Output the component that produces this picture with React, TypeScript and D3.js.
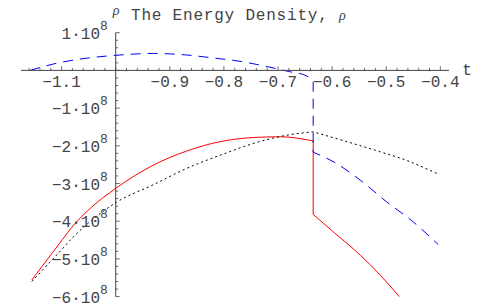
import React from "react";
import * as d3 from "d3";

// Values in units of 1e8
const blueLeftT = [-1.158, -1.115, -1.066, -1.0, -0.93, -0.87, -0.82, -0.77, -0.72, -0.68, -0.648, -0.635];
const blueLeftV = [0, 0.17, 0.30, 0.40, 0.45, 0.41, 0.33, 0.24, 0.10, -0.03, -0.14, -0.29];
const blueRightT = [-0.635, -0.598, -0.548, -0.499, -0.45, -0.404];
const blueRightV = [-2.17, -2.42, -2.91, -3.49, -4.02, -4.62];

const redLeftT = [-1.155, -1.106, -1.075, -1.044, -1.0, -0.93, -0.869, -0.807, -0.746, -0.696, -0.635];
const redLeftV = [-5.56, -4.63, -4.06, -3.62, -3.13, -2.51, -2.14, -1.89, -1.78, -1.76, -1.87];
const redRightT = [-0.635, -0.598, -0.548, -0.511, -0.476];
const redRightV = [-3.82, -4.28, -4.90, -5.43, -6.0];

const blackLeftT = [-1.155, -1.106, -1.075, -1.044, -1.0, -0.93, -0.869, -0.807, -0.746, -0.684, -0.635];
const blackLeftV = [-5.6, -4.85, -4.37, -3.97, -3.51, -3.03, -2.60, -2.25, -1.94, -1.72, -1.63];
const blackRightT = [-0.635, -0.58, -0.52, -0.46, -0.407];
const blackRightV = [-1.63, -1.86, -2.12, -2.40, -2.73];

const xTickLabels = ["-1.1", "-0.9", "-0.8", "-0.7", "-0.6", "-0.5", "-0.4"];
const xTickValues = [-1.1, -0.9, -0.8, -0.7, -0.6, -0.5, -0.4];
const yTickValues = [1, -1, -2, -3, -4, -5, -6];

const W = 498, H = 308;
const x = d3.scaleLinear().domain([-1.175, -0.384]).range([21.0, 449]);
const y = d3.scaleLinear().domain([-6, 1]).range([296.6, 32.7]);

function branchPath(ts: number[], vs: number[]) {
  const gen = d3
    .line<[number, number]>()
    .x((d) => x(d[0]))
    .y((d) => y(d[1]))
    .curve(d3.curveMonotoneX);
  return gen(ts.map((t, i) => [t, vs[i]] as [number, number])) || "";
}

function joined(lt: number[], lv: number[], rt: number[], rv: number[]) {
  const a = branchPath(lt, lv);
  const b = branchPath(rt, rv);
  return a + "L" + b.slice(1);
}

const fmt = (s: string) => s.replace("-", "\u2212");

export default function App() {
  const axisColor = "#444";
  const textColor = "#444";
  const font = "'Liberation Mono', 'Courier New', monospace";
  const y0 = y(0);
  const x0 = x(-1);

  const minorX: number[] = [];
  for (let i = -58; i <= -20; i++) minorX.push(i * 0.02);
  const minorY: number[] = [];
  for (let i = -30; i <= 5; i++) minorY.push(i * 0.2);

  return (
    <svg width={W} height={H} style={{ position: "absolute", left: 0, top: 0 }}>
      <rect width={W} height={H} fill="white" />
      <path
        d={joined(redLeftT, redLeftV, redRightT, redRightV)}
        fill="none"
        stroke="#ff0000"
        strokeWidth={1}
      />
      <path
        d={joined(blackLeftT, blackLeftV, blackRightT, blackRightV)}
        fill="none"
        stroke="#000"
        strokeWidth={1}
        strokeDasharray="2 3"
      />
      <path
        d={joined(blueLeftT, blueLeftV, blueRightT, blueRightV)}
        fill="none"
        stroke="#0000ff"
        strokeWidth={1}
        strokeDasharray="10 7"
      />
      <line x1={x.range()[0]} x2={x.range()[1]} y1={y0} y2={y0} stroke={axisColor} strokeWidth={1} />
      {minorX.map((t, i) => {
        const isMajor = Math.abs(t * 10 - Math.round(t * 10)) < 1e-6;
        return (
          <line
            key={"mx" + i}
            x1={x(t)}
            x2={x(t)}
            y1={y0}
            y2={y0 - (isMajor ? 4 : 2.5)}
            stroke={axisColor}
            strokeWidth={0.8}
          />
        );
      })}
      {xTickValues.map((t, i) => (
        <text
          key={"xl" + i}
          x={x(t)}
          y={y0 + 17}
          textAnchor="middle"
          fontFamily={font}
          fontSize={16}
          fill={textColor}
        >
          {fmt(xTickLabels[i])}
        </text>
      ))}
      <text x={467} y={y0 + 4.5} textAnchor="middle" fontFamily={font} fontSize={16} fill={textColor}>
        t
      </text>
      <line x1={x0} x2={x0} y1={y.range()[1]} y2={y.range()[0]} stroke={axisColor} strokeWidth={1} />
      {minorY.map((v, i) => {
        const isMajor = Math.abs(v - Math.round(v)) < 1e-6;
        return (
          <line
            key={"my" + i}
            x1={x0}
            x2={x0 + (isMajor ? 4 : 2.5)}
            y1={y(v)}
            y2={y(v)}
            stroke={axisColor}
            strokeWidth={0.8}
          />
        );
      })}
      {yTickValues.map((v, i) => (
        <g key={"yl" + i}>
          <text
            x={100}
            y={y(v) + 6}
            textAnchor="end"
            fontFamily={font}
            fontSize={16}
            fill={textColor}
          >
            {(v < 0 ? "\u2212" : "") + Math.abs(v) + "\u00b710"}
          </text>
          <text x={100} y={y(v) - 3} fontFamily={font} fontSize={13} fill={textColor}>
            8
          </text>
        </g>
      ))}
      <text
        x={116}
        y={15}
        textAnchor="middle"
        fontFamily="'Liberation Serif', serif"
        fontStyle="italic"
        fontSize={14}
        fill={textColor}
      >
        ρ
      </text>
      <text x={131} y={20} fontFamily={font} fontSize={16} fill={textColor} letterSpacing={0.8}>
        The Energy Density,{" "}
        <tspan fontFamily="'Liberation Serif', serif" fontStyle="italic" fontSize={14}>
          ρ
        </tspan>
      </text>
    </svg>
  );
}
